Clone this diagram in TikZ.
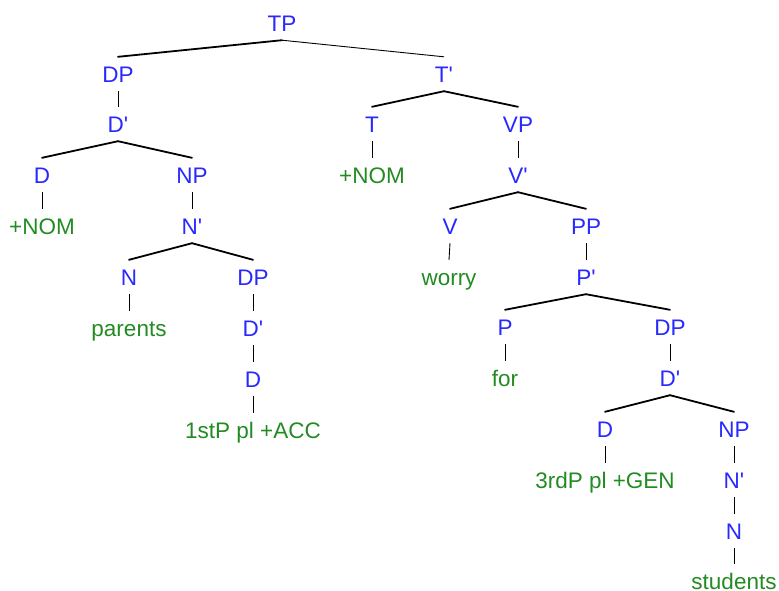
\documentclass[tikz,border=0pt]{standalone}
\usepackage{fontspec}
\setmainfont{Liberation Sans}
\definecolor{catblue}{RGB}{40,40,255}
\definecolor{wordgreen}{RGB}{34,139,34}
\begin{document}
\begin{tikzpicture}[x=1pt,y=-1pt,
  every node/.style={font=\fontsize{22.5}{27}\selectfont, inner sep=0pt,
    text height=16pt, text depth=0pt, minimum height=34pt},
  cat/.style={text=catblue},
  word/.style={text=wordgreen},
  branch/.style={line width=1.8pt, line cap=round},
  stem/.style={line width=0.9pt}]
\useasboundingbox (0,0) rectangle (779,590);

% categories
\node[cat] (TP)    at (282,23)  {TP};
\node[cat] (DPa)   at (118,74)  {DP};
\node[cat] (Tbar)  at (444,74)  {T\textquotesingle};
\node[cat] (Dbara) at (118,124) {D\textquotesingle};
\node[cat] (T)     at (372,124) {T};
\node[cat] (VP)    at (518,124) {VP};
\node[cat] (Da)    at (42,175)  {D};
\node[cat] (NPa)   at (192,175) {NP};
\node[cat] (Vbar)  at (518,175) {V\textquotesingle};
\node[cat] (Nbara) at (192,226) {N\textquotesingle};
\node[cat] (V)     at (450,226) {V};
\node[cat] (PP)    at (586,226) {PP};
\node[cat] (Na)    at (129,277) {N};
\node[cat] (DPb)   at (253,277) {DP};
\node[cat] (Pbar)  at (586,277) {P\textquotesingle};
\node[cat] (Dbarb) at (253,328) {D\textquotesingle};
\node[cat] (P)     at (505,327) {P};
\node[cat] (DPc)   at (670,327) {DP};
\node[cat] (Db)    at (253,379) {D};
\node[cat] (Dbarc) at (670,378) {D\textquotesingle};
\node[cat] (Dc)    at (605,429) {D};
\node[cat] (NPc)   at (734,429) {NP};
\node[cat] (Nbarc) at (734,480) {N\textquotesingle};
\node[cat] (Nc)    at (734,531) {N};

% words and features
\node[word] (noma)     at (42,226)  {+NOM};
\node[word] (nomb)     at (372,175) {+NOM};
\node[word] (worry)    at (449,277) {worry};
\node[word] (parents)  at (129,328) {parents};
\node[word] (for)      at (505,378) {for};
\node[word] (acc)      at (253,430) {1stP pl +ACC};
\node[word] (gen)      at (605,480) {3rdP pl +GEN};
\node[word] (students) at (734,581) {students};

% branching
\draw[branch] (TP.south) -- (DPa.north);
\draw[stem]   (TP.south) -- (Tbar.north);
\draw[branch] (Dbara.south) -- (Da.north);
\draw[branch] (Dbara.south) -- (NPa.north);
\draw[branch] (Tbar.south) -- (T.north);
\draw[branch] (Tbar.south) -- (VP.north);
\draw[branch] (Nbara.south) -- (Na.north);
\draw[branch] (Nbara.south) -- (DPb.north);
\draw[branch] (Vbar.south) -- (V.north);
\draw[branch] (Vbar.south) -- (PP.north);
\draw[branch] (Pbar.south) -- (P.north);
\draw[branch] (Pbar.south) -- (DPc.north);
\draw[branch] (Dbarc.south) -- (Dc.north);
\draw[branch] (Dbarc.south) -- (NPc.north);

% non-branching
\draw[stem] (DPa.south) -- (Dbara.north);
\draw[stem] (Da.south) -- (noma.north);
\draw[stem] (NPa.south) -- (Nbara.north);
\draw[stem] (T.south) -- (nomb.north);
\draw[stem] (VP.south) -- (Vbar.north);
\draw[stem] (V.south) -- (worry.north);
\draw[stem] (PP.south) -- (Pbar.north);
\draw[stem] (Na.south) -- (parents.north);
\draw[stem] (DPb.south) -- (Dbarb.north);
\draw[stem] (Dbarb.south) -- (Db.north);
\draw[stem] (Db.south) -- (acc.north);
\draw[stem] (P.south) -- (for.north);
\draw[stem] (DPc.south) -- (Dbarc.north);
\draw[stem] (Dc.south) -- (gen.north);
\draw[stem] (NPc.south) -- (Nbarc.north);
\draw[stem] (Nbarc.south) -- (Nc.north);
\draw[stem] (Nc.south) -- (students.north);
\end{tikzpicture}
\end{document}
